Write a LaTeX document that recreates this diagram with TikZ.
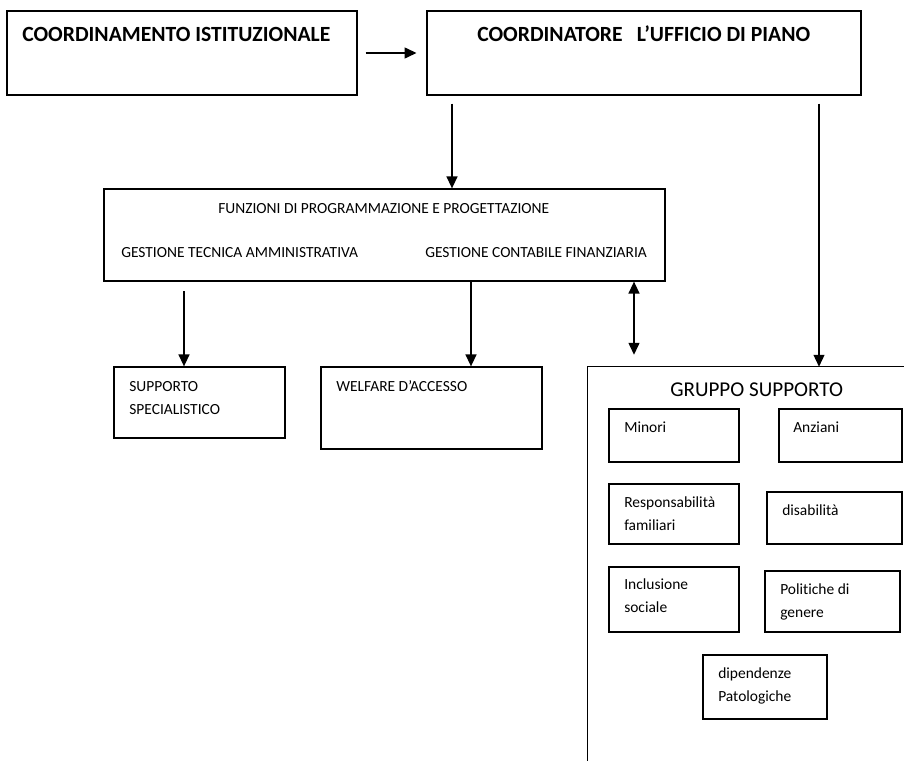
\documentclass[tikz,border=0pt]{standalone}
\usepackage{fontspec}
\setmainfont{Carlito}[Ligatures={TeX,NoCommon}]
\usetikzlibrary{arrows.meta,fit,positioning}

\begin{document}
\begin{tikzpicture}[x=0.025cm, y=-0.025cm, >={Triangle[length=8.5pt,width=7.8pt]},
    blk/.style={draw, line width=0.9pt, inner sep=0pt},
    lbl/.style={anchor=base west, inner sep=0pt, font=\fontsize{11}{13}\selectfont},
    head/.style={anchor=base west, inner sep=0pt, font=\fontsize{15.4}{18}\selectfont\bfseries},
    link/.style={line width=1pt}]
    \useasboundingbox (0,0) rectangle (904,761);

    % top row
    \node[blk, fit={(7,11) (357,95)}] (istit) {};
    \node[head] (istitlbl) at (22,42) {COORDINAMENTO ISTITUZIONALE};
    \node[blk, fit={(427,11) (861,95)}] (ufficio) {};
    \node[head] (ufficiolbl) at (477,42) {COORDINATORE\hspace{10pt}L'UFFICIO DI PIANO};

    % funzioni
    \node[blk, fit={(104,189) (665,281)}] (funz) {};
    \node[lbl] (funzlbl) at (218,214) {FUNZIONI DI PROGRAMMAZIONE E PROGETTAZIONE};
    \node[lbl] (tecnica) at (121,258) {GESTIONE TECNICA AMMINISTRATIVA};
    \node[lbl] (contabile) at (425,258) {GESTIONE CONTABILE FINANZIARIA};

    % supporto e welfare
    \node[blk, fit={(114,367) (285,438)}] (suppspec) {};
    \node[lbl] (supp1) at (129,392) {SUPPORTO};
    \node[lbl] (supp2) at (129,415) {SPECIALISTICO};
    \node[blk, fit={(321,367) (542,449)}] (welfare) {};
    \node[lbl] (welfarelbl) at (336,392) {WELFARE D'ACCESSO};

    % gruppo supporto
    \node[inner sep=0pt, fit={(588,367) (904,761)}] (gruppo) {};
    \draw[blk] (gruppo.south west) -- (gruppo.north west) -- (gruppo.north east);
    \node[anchor=base west, inner sep=0pt, font=\fontsize{15}{18}\selectfont] (gruppolbl) at (670,397) {GRUPPO SUPPORTO};

    \node[blk, fit={(609,409) (739,462)}] (minori) {};
    \node[lbl] (minorilbl) at (624,433) {Minori};
    \node[blk, fit={(779,409) (902,462)}] (anziani) {};
    \node[lbl] (anzianilbl) at (793,433) {Anziani};
    \node[blk, fit={(609,484) (739,544)}] (resp) {};
    \node[lbl] (resp1) at (624,508) {Responsabilità};
    \node[lbl] (resp2) at (624,531) {familiari};
    \node[blk, fit={(767,492) (902,544)}] (disab) {};
    \node[lbl] (disablbl) at (782,516) {disabilità};
    \node[blk, fit={(609,567) (739,632)}] (incl) {};
    \node[lbl] (incl1) at (624,590) {Inclusione};
    \node[lbl] (incl2) at (624,613) {sociale};
    \node[blk, fit={(765,571) (900,632)}] (polit) {};
    \node[lbl] (polit1) at (780,595) {Politiche di};
    \node[lbl] (polit2) at (780,618) {genere};
    \node[blk, fit={(703,655) (827,719)}] (dipend) {};
    \node[lbl] (dipend1) at (718,679) {dipendenze};
    \node[lbl] (dipend2) at (718,702) {Patologiche};

    % connectors
    \draw[link, ->, shorten <=5.7pt, shorten >=7pt] (istit) -- (ufficio);
    \draw[link, ->, shorten <=5.7pt] (ufficio.south -| 452,0) -- (funz.north -| 452,0);
    \draw[link, ->, shorten <=5.7pt] (ufficio.south -| 819,0) -- (gruppo.north -| 819,0);
    \draw[link, ->, shorten <=7pt] (funz.south -| 184,0) -- (suppspec.north -| 184,0);
    \draw[link, ->] (funz.south -| 471,0) -- (welfare.north -| 471,0);
    \draw[link, <->, shorten >=8.5pt] (funz.south -| 634,0) -- (gruppo.north -| 634,0);
\end{tikzpicture}
\end{document}
